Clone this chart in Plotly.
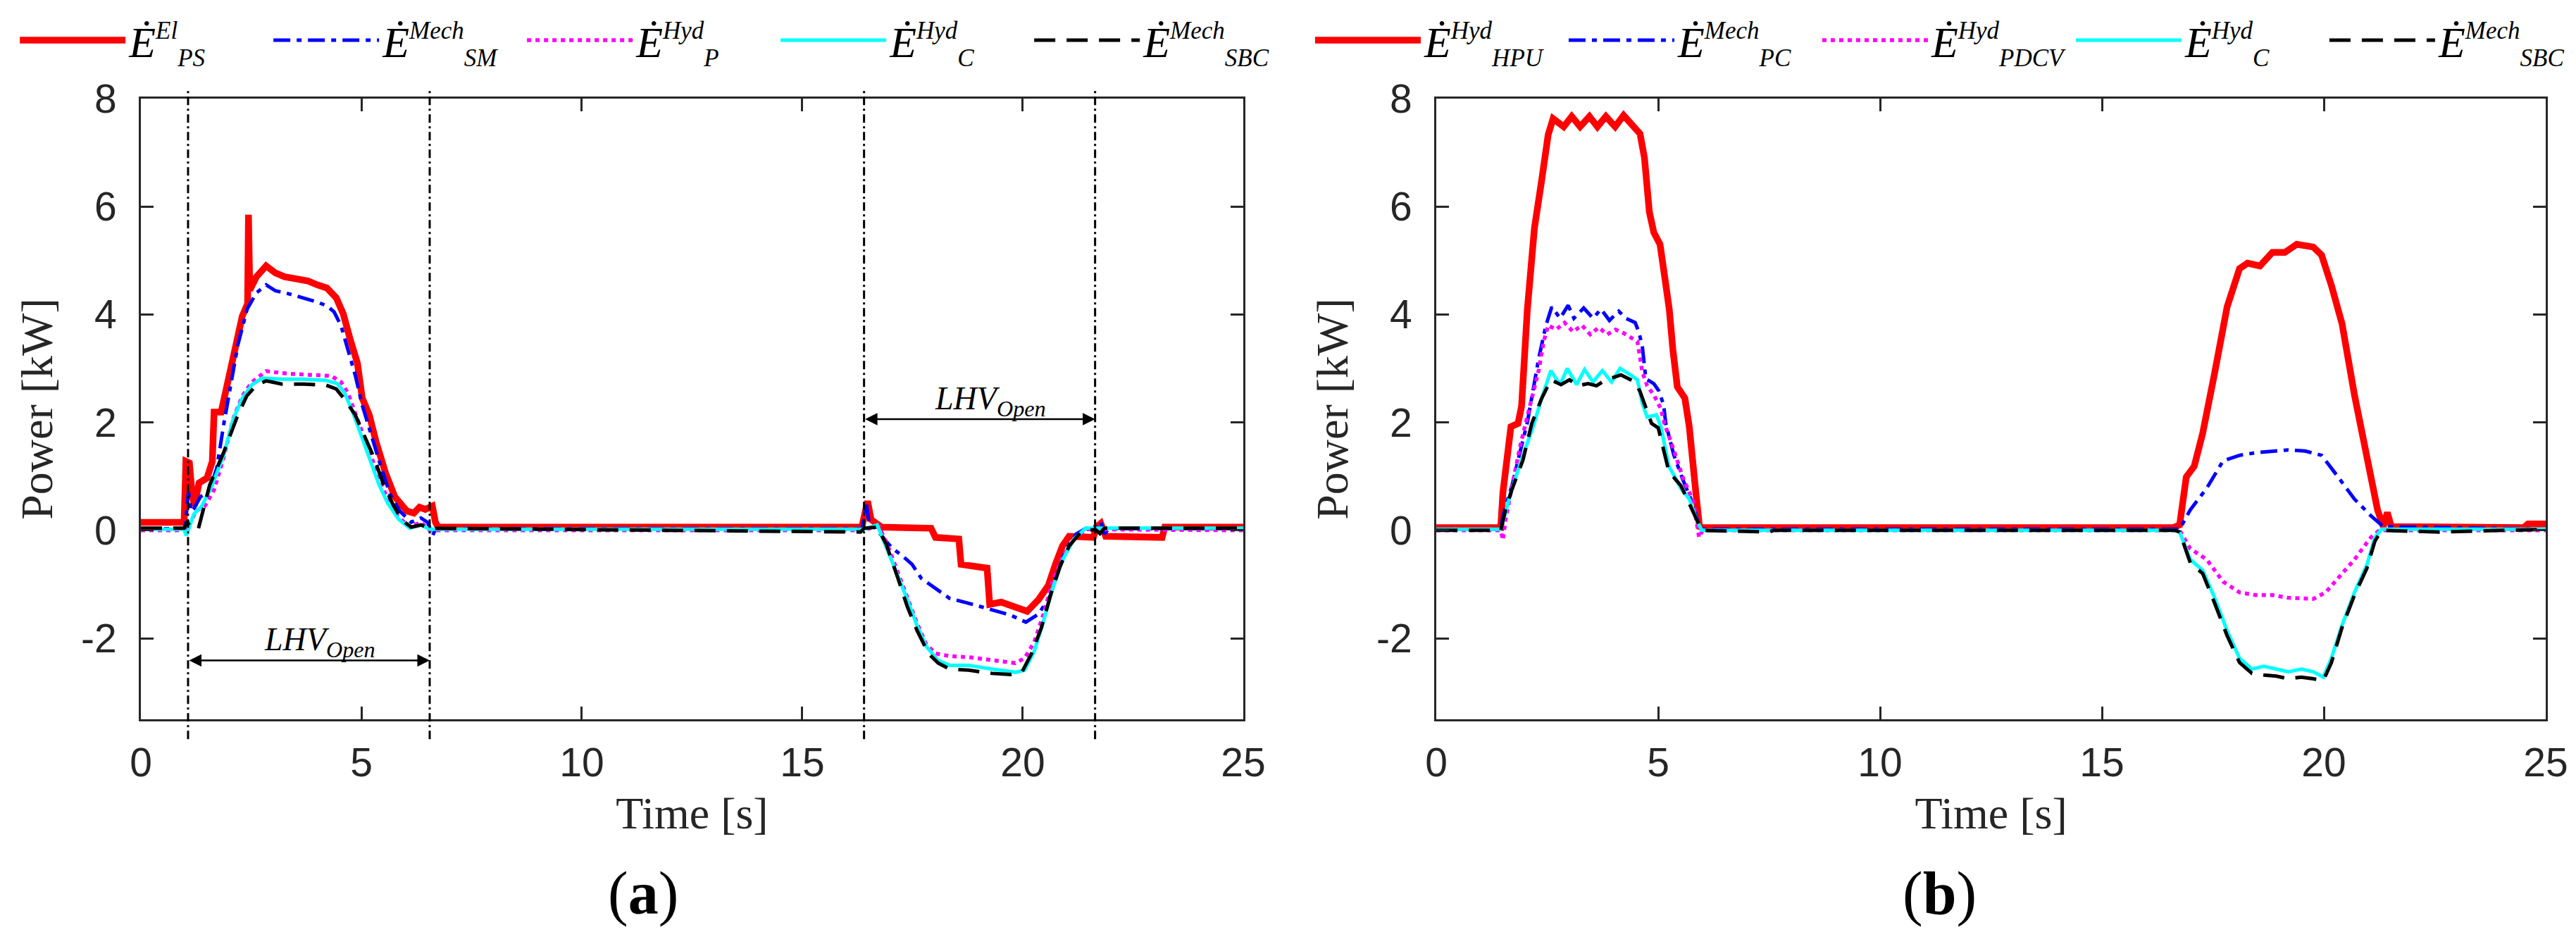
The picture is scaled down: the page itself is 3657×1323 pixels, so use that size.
import plotly.graph_objects as go

# ---------------- panel (a) ----------------
t_ps_el = [0, 0.98, 1.02, 1.10, 1.16, 1.21, 1.32, 1.50, 1.62, 1.66, 1.82, 1.98, 2.14, 2.30, 2.42, 2.44, 2.47, 2.52, 2.62, 2.84,
           3.05, 3.26, 3.58, 3.79, 4.00, 4.22, 4.43, 4.59, 4.75, 4.91, 5.02, 5.18, 5.34, 5.55, 5.76, 6.03, 6.19, 6.32, 6.45, 6.61,
           6.68, 6.74, 16.35, 16.42, 16.48, 16.56, 16.64, 16.80, 17.92, 18.02, 18.55, 18.60, 19.19, 19.25, 19.51, 19.83, 20.10, 20.36, 20.58, 20.74,
           20.90, 21.05, 21.32, 21.60, 21.67, 21.77, 21.88, 23.16, 23.22, 25]
p_ps_el = [0.15, 0.15, 1.28, 1.25, 0.70, 0.45, 0.88, 0.97, 1.28, 2.19, 2.19, 2.75, 3.36, 3.97, 4.20, 5.85, 4.45, 4.55, 4.70, 4.90,
           4.77, 4.70, 4.66, 4.62, 4.55, 4.49, 4.31, 4.01, 3.53, 3.10, 2.45, 2.14, 1.62, 1.06, 0.62, 0.36, 0.32, 0.43, 0.39, 0.45,
           0.15, 0.06, 0.06, 0.30, 0.54, 0.20, 0.15, 0.06, 0.04, -0.13, -0.16, -0.63, -0.70, -1.37, -1.33, -1.41, -1.50, -1.28, -1.02, -0.63,
           -0.29, -0.11, -0.13, -0.13, 0.06, 0.13, -0.11, -0.13, 0.06, 0.06]

t_sm_mech = [0, 1.0, 1.08, 1.14, 1.2, 1.35, 1.56, 1.72, 1.88, 2.04, 2.20, 2.41, 2.62, 2.84, 3.05, 3.37, 3.69, 4.00, 4.22, 4.38,
             4.54, 4.70, 4.86, 5.02, 5.23, 5.44, 5.65, 5.87, 6.13, 6.35, 6.50, 6.62, 6.68, 6.75, 16.36, 16.45, 16.52, 16.64, 16.90, 17.04,
             17.28, 17.49, 17.70, 18.02, 18.34, 18.77, 19.30, 19.72, 20.07, 20.36, 20.63, 20.79, 21.00, 21.21, 21.48, 21.72, 21.77, 21.85, 21.95, 25]
p_sm_mech = [0.03, 0.03, 0.71, 0.35, 0.40, 0.62, 0.75, 1.15, 1.97, 2.75, 3.44, 4.10, 4.40, 4.55, 4.44, 4.38, 4.31, 4.23, 4.16, 4.05,
             3.79, 3.36, 2.88, 2.32, 1.75, 1.19, 0.67, 0.36, 0.15, 0.23, 0.15, -0.09, 0.02, 0.03, 0.03, 0.50, 0.10, 0.06, -0.20, -0.33,
             -0.48, -0.63, -0.89, -1.07, -1.26, -1.35, -1.48, -1.57, -1.70, -1.55, -1.20, -0.76, -0.33, -0.07, 0.06, 0.06, 0.15, -0.07, 0.03, 0.03]

t_p_hyd = [0, 1.02, 1.1, 1.25, 1.45, 1.66, 1.88, 2.09, 2.30, 2.52, 2.84, 3.37, 3.90, 4.32, 4.54, 4.70, 4.91, 5.12, 5.34, 5.55,
           5.81, 6.08, 6.35, 6.55, 16.4, 16.6, 16.75, 16.96, 17.17, 17.38, 17.60, 17.81, 18.02, 18.34, 18.77, 19.30, 19.83, 20.04, 20.26, 20.47,
           20.68, 20.90, 21.16, 21.43, 25]
p_p_hyd = [0.0, 0.0, 0.1, 0.36, 0.45, 0.75, 1.36, 2.06, 2.49, 2.75, 2.95, 2.90, 2.88, 2.86, 2.75, 2.54, 2.06, 1.58, 1.11, 0.67,
           0.28, 0.06, 0.15, 0.0, 0.0, 0.06, 0.06, -0.33, -0.81, -1.24, -1.72, -2.11, -2.28, -2.33, -2.35, -2.41, -2.46, -2.37, -2.07, -1.55,
           -0.94, -0.50, -0.16, 0.02, 0.0]

t_c_hyd_a = [0, 0.98, 1.03, 1.1, 1.2, 1.38, 1.6, 1.88, 2.09, 2.30, 2.52, 2.75, 3.2, 3.7, 4.2, 4.45, 4.62, 4.80, 5.0, 5.2,
             5.4, 5.6, 5.85, 6.1, 6.35, 6.55, 16.4, 16.7, 16.9, 17.17, 17.38, 17.60, 17.81, 18.08, 18.34, 18.77, 19.30, 19.83, 20.04, 20.26,
             20.47, 20.68, 20.90, 21.16, 21.43, 25]
p_c_hyd_a = [0.02, 0.02, -0.1, 0.05, 0.3, 0.45, 0.8, 1.4, 2.05, 2.45, 2.7, 2.82, 2.8, 2.8, 2.78, 2.72, 2.55, 2.2, 1.75, 1.3,
             0.85, 0.5, 0.2, 0.04, 0.1, 0.02, 0.02, 0.1, -0.29, -0.85, -1.28, -1.76, -2.15, -2.41, -2.5, -2.5, -2.57, -2.63, -2.59, -2.24,
             -1.68, -1.07, -0.55, -0.16, 0.04, 0.04]

t_sbc_a = [0, 0.98, 1.05, 1.15, 1.3, 1.56, 1.88, 2.2, 2.4, 2.62, 2.84, 3.2, 3.7, 4.2, 4.43, 4.64, 4.86, 5.07, 5.28, 5.49,
           5.71, 5.92, 6.13, 6.35, 6.55, 16.32, 16.4, 16.7, 16.9, 17.17, 17.38, 17.60, 17.86, 18.08, 18.34, 18.77, 19.30, 19.72, 19.99, 20.20,
           20.42, 20.63, 20.84, 21.05, 21.32, 21.64, 21.75, 21.85, 25]
p_sbc_a = [0.04, 0.04, 0.15, 0.05, 0.02, 0.84, 1.45, 2.14, 2.49, 2.69, 2.77, 2.71, 2.71, 2.69, 2.62, 2.41, 2.14, 1.75, 1.36, 0.88,
           0.49, 0.19, 0.06, 0.1, 0.04, -0.03, 0.04, 0.06, -0.25, -0.89, -1.41, -1.85, -2.28, -2.46, -2.57, -2.59, -2.65, -2.67, -2.61, -2.28,
           -1.81, -1.20, -0.68, -0.29, -0.03, 0.02, -0.06, 0.04, 0.04]

# ---------------- panel (b) ----------------
t_hpu = [0, 1.45, 1.50, 1.60, 1.68, 1.84, 1.92, 2.05, 2.21, 2.37, 2.52, 2.63, 2.87, 3.05, 3.24, 3.45, 3.63, 3.82, 4.03, 4.22,
         4.43, 4.59, 4.69, 4.80, 4.90, 5.04, 5.14, 5.25, 5.33, 5.43, 5.60, 5.70, 5.85, 5.93, 6.0, 16.6, 16.75, 16.9, 17.08, 17.27,
         17.54, 17.82, 18.10, 18.28, 18.56, 18.84, 19.12, 19.39, 19.76, 19.95, 20.17, 20.41, 20.69, 20.97, 21.21, 21.34, 21.43, 21.52, 24.5, 24.6, 25]
p_hpu = [0.05, 0.05, 0.7, 1.5, 1.92, 1.98, 2.3, 4.09, 5.6, 6.47, 7.33, 7.63, 7.48, 7.67, 7.48, 7.67, 7.48, 7.67, 7.48, 7.69,
         7.48, 7.35, 6.9, 5.9, 5.52, 5.3, 4.73, 4.09, 3.35, 2.66, 2.45, 1.92, 0.68, 0.07, 0.05, 0.05, 0.1, 0.99, 1.19, 1.8,
         2.92, 4.14, 4.85, 4.95, 4.9, 5.15, 5.15, 5.3, 5.25, 5.1, 4.54, 3.83, 2.51, 1.39, 0.38, 0.07, 0.33, 0.07, 0.05, 0.12, 0.12]

t_pc = [0, 1.45, 1.50, 1.72, 1.90, 2.05, 2.31, 2.47, 2.60, 2.79, 2.97, 3.10, 3.32, 3.53, 3.71, 3.90, 4.11, 4.27, 4.48, 4.56,
        4.64, 4.72, 4.90, 5.01, 5.12, 5.17, 5.35, 5.55, 5.75, 5.93, 6.0, 16.65, 16.75, 16.99, 17.36, 17.73, 18.10, 18.47, 18.84, 19.20,
        19.58, 19.95, 20.32, 20.69, 21.06, 21.34, 25]
p_pc = [0.02, 0.02, 0.27, 0.88, 1.5, 2.0, 3.2, 3.8, 4.14, 3.93, 4.17, 3.93, 4.12, 3.93, 4.10, 3.89, 4.06, 3.93, 3.85, 3.68,
        3.42, 2.81, 2.72, 2.59, 2.33, 1.98, 1.4, 0.95, 0.55, 0.07, 0.02, 0.02, 0.02, 0.38, 0.78, 1.29, 1.39, 1.44, 1.47, 1.49,
        1.47, 1.39, 0.99, 0.58, 0.27, 0.07, 0.02]

t_pdcv = [0, 1.45, 1.50, 1.56, 1.72, 1.90, 2.05, 2.31, 2.42, 2.52, 2.70, 2.89, 3.08, 3.28, 3.47, 3.66, 3.85, 4.04, 4.23, 4.38,
          4.53, 4.59, 4.64, 4.75, 4.90, 5.06, 5.14, 5.35, 5.55, 5.79, 5.92, 6.0, 16.65, 16.75, 16.99, 17.36, 17.73, 18.10, 18.47, 18.84,
          19.20, 19.76, 20.04, 20.32, 20.69, 21.06, 21.25, 25]
p_pdcv = [0.0, 0.0, -0.18, 0.2, 0.88, 1.6, 2.11, 2.98, 3.5, 3.8, 3.72, 3.85, 3.68, 3.80, 3.63, 3.76, 3.63, 3.72, 3.65, 3.57,
          3.5, 3.2, 2.94, 2.68, 2.51, 2.25, 1.98, 1.49, 0.99, 0.53, -0.13, 0.0, 0.0, 0.0, -0.34, -0.54, -0.95, -1.15, -1.2, -1.2,
          -1.25, -1.27, -1.15, -0.89, -0.54, -0.13, 0.0, 0.0]

t_c_hyd_b = [0, 1.45, 1.55, 1.67, 1.91, 2.18, 2.37, 2.58, 2.79, 2.95, 3.16, 3.34, 3.53, 3.74, 3.95, 4.14, 4.38, 4.53, 4.64, 4.75,
             4.96, 5.06, 5.24, 5.51, 5.70, 5.88, 5.98, 16.65, 16.75, 16.99, 17.27, 17.54, 17.82, 18.10, 18.38, 18.65, 18.93, 19.20, 19.49, 19.76,
             19.99, 20.17, 20.41, 20.69, 20.97, 21.15, 21.30, 25]
p_c_hyd_b = [0.02, 0.02, 0.3, 0.68, 1.29, 1.92, 2.44, 2.96, 2.7, 3.0, 2.7, 2.98, 2.75, 2.96, 2.75, 3.0, 2.88, 2.79, 2.36, 2.1,
             2.14, 1.92, 1.19, 0.78, 0.58, 0.17, 0.0, 0.0, -0.03, -0.54, -0.74, -1.25, -1.86, -2.37, -2.57, -2.52, -2.57, -2.62, -2.57, -2.62,
             -2.72, -2.37, -1.76, -1.15, -0.64, -0.13, 0.02, 0.02]

t_sbc_b = [0, 1.45, 1.55, 1.70, 1.95, 2.15, 2.37, 2.58, 2.81, 3.00, 3.19, 3.42, 3.61, 3.82, 4.16, 4.48, 4.59, 4.69, 4.85, 5.0,
           5.24, 5.51, 5.70, 5.88, 5.98, 7.5, 7.6, 16.65, 16.75, 16.99, 17.27, 17.54, 17.82, 18.10, 18.38, 18.65, 18.93, 19.20, 19.49, 19.76,
           19.99, 20.17, 20.41, 20.69, 20.97, 21.15, 21.30, 22.6, 25]
p_sbc_b = [0.0, 0.0, 0.35, 0.75, 1.3, 1.98, 2.44, 2.79, 2.7, 2.79, 2.68, 2.72, 2.68, 2.79, 2.88, 2.75, 2.57, 2.36, 1.98, 1.9,
           1.09, 0.83, 0.5, 0.15, 0.0, -0.03, 0.0, 0.0, -0.03, -0.6, -0.8, -1.35, -1.95, -2.45, -2.65, -2.68, -2.7, -2.75, -2.72, -2.75,
           -2.78, -2.45, -1.8, -1.2, -0.7, -0.2, 0.0, -0.03, 0.02]

# valve opening / closing instants in panel (a)
valve_times = [1.07, 6.55, 16.4, 21.64]
lhv_spans = [(1.07, 6.55, -2.41), (16.4, 21.64, 2.06)]

x_ticks = [0, 5, 10, 15, 20, 25]
y_ticks = [-2, 0, 2, 4, 6, 8]
y_tick_text = ["-2", "0", "2", "4", "6", "8"]

# (superscript, subscript) of each legend label
labels_a = [("El", "PS"), ("Mech", "SM"), ("Hyd", "P"), ("Hyd", "C"), ("Mech", "SBC")]
labels_b = [("Hyd", "HPU"), ("Mech", "PC"), ("Hyd", "PDCV"), ("Hyd", "C"), ("Mech", "SBC")]


def label(sup, sub):
    s = "font-size:35px"
    return ("<i>Ė<sup><span style='%s'>%s</span></sup><sub><span style='%s'>%s</span></sub></i>"
            % (s, sup, s, sub))


styles = [dict(color="#FF0000", width=9.5, dash="solid"),
          dict(color="#0000FF", width=5, dash="24px,9px,7px,9px"),
          dict(color="#FF00FF", width=5.5, dash="6px,6px"),
          dict(color="#00FFFF", width=5, dash="solid"),
          dict(color="#000000", width=5, dash="30px,16px")]

series_a = [(t_ps_el, p_ps_el), (t_sm_mech, p_sm_mech), (t_p_hyd, p_p_hyd), (t_c_hyd_a, p_c_hyd_a), (t_sbc_a, p_sbc_a)]
series_b = [(t_hpu, p_hpu), (t_pc, p_pc), (t_pdcv, p_pdcv), (t_c_hyd_b, p_c_hyd_b), (t_sbc_b, p_sbc_b)]

fig = go.Figure()
for (t, p), lb, st in zip(series_a, labels_a, styles):
    fig.add_trace(go.Scatter(x=t, y=p, mode="lines", name=label(*lb), line=st,
                             xaxis="x", yaxis="y", legend="legend"))
for (t, p), lb, st in zip(series_b, labels_b, styles):
    fig.add_trace(go.Scatter(x=t, y=p, mode="lines", name=label(*lb), line=st,
                             xaxis="x2", yaxis="y2", legend="legend2"))

axis_col = "#262626"
tick_font = dict(family="Liberation Sans, Arial", size=57, color=axis_col)
title_font = dict(family="Liberation Serif, Times New Roman", size=64, color=axis_col)


def xax(domain, anchor):
    return dict(domain=domain, anchor=anchor, range=[0, 25], tickvals=x_ticks, ticks="inside", ticklen=18,
                tickwidth=3, tickcolor=axis_col, showline=True, linewidth=3, linecolor=axis_col, mirror="ticks",
                showgrid=False, zeroline=False, tickfont=tick_font, ticklabelstandoff=10,
                title=dict(text="Time [s]", font=title_font, standoff=18))


def yax(anchor):
    return dict(domain=[0, 1], anchor=anchor, range=[-3.5, 8], tickvals=y_ticks, ticktext=y_tick_text,
                ticks="inside", ticklen=18, tickwidth=3, tickcolor=axis_col, showline=True, linewidth=3,
                linecolor=axis_col, mirror="ticks", showgrid=False, zeroline=False, tickfont=tick_font,
                ticklabelstandoff=20, title=dict(text="Power [kW]", font=title_font, standoff=20))


legend_common = dict(orientation="h", xanchor="left", yanchor="middle", y=1.094,
                     font=dict(family="Liberation Serif, Times New Roman", size=62, color="black"),
                     itemwidth=150, entrywidth=195, entrywidthmode="pixels",
                     bgcolor="rgba(0,0,0,0)", borderwidth=0)

fig.update_layout(
    width=3657, height=1323,
    margin=dict(l=192, r=51, t=132, b=310, autoexpand=False),
    paper_bgcolor="white", plot_bgcolor="white",
    xaxis=xax([0, 0.4584], "y"), yaxis=yax("x"),
    xaxis2=xax([0.5387, 1], "y2"), yaxis2=yax("x2"),
    legend=dict(x=-0.0518, **legend_common),
    legend2=dict(x=0.4868, **legend_common),
)

# dash-dot markers of the valve instants (extend a little beyond the frame)
for tv in valve_times:
    fig.add_shape(type="line", xref="x", yref="y domain", x0=tv, x1=tv, y0=-0.032, y1=1.018,
                  line=dict(color="black", width=3, dash="12px,5px,3px,5px"))

# double arrows with the LHV label
for t0, t1, yv in lhv_spans:
    fig.add_annotation(x=t1, y=yv, ax=t0, ay=yv, xref="x", yref="y", axref="x", ayref="y", text="",
                       showarrow=True, arrowside="end+start", arrowhead=2, arrowsize=1.4, arrowwidth=2.5,
                       arrowcolor="black", standoff=0, startstandoff=0)
    fig.add_annotation(x=(t0 + t1) / 2 + 0.25, y=yv + 0.34, xref="x", yref="y", showarrow=False,
                       text="<i>LHV<sub>Open</sub></i>",
                       font=dict(family="Liberation Serif, Times New Roman", size=46, color="black"))

for lbl, xp in [("(<b>a</b>)", 0.2088), ("(<b>b</b>)", 0.748)]:
    fig.add_annotation(x=xp, y=-0.2804, xref="paper", yref="paper", xanchor="center", yanchor="middle",
                       showarrow=False, text=lbl,
                       font=dict(family="Liberation Serif, Times New Roman", size=86, color="black"))

fig.write_html("out.html")
